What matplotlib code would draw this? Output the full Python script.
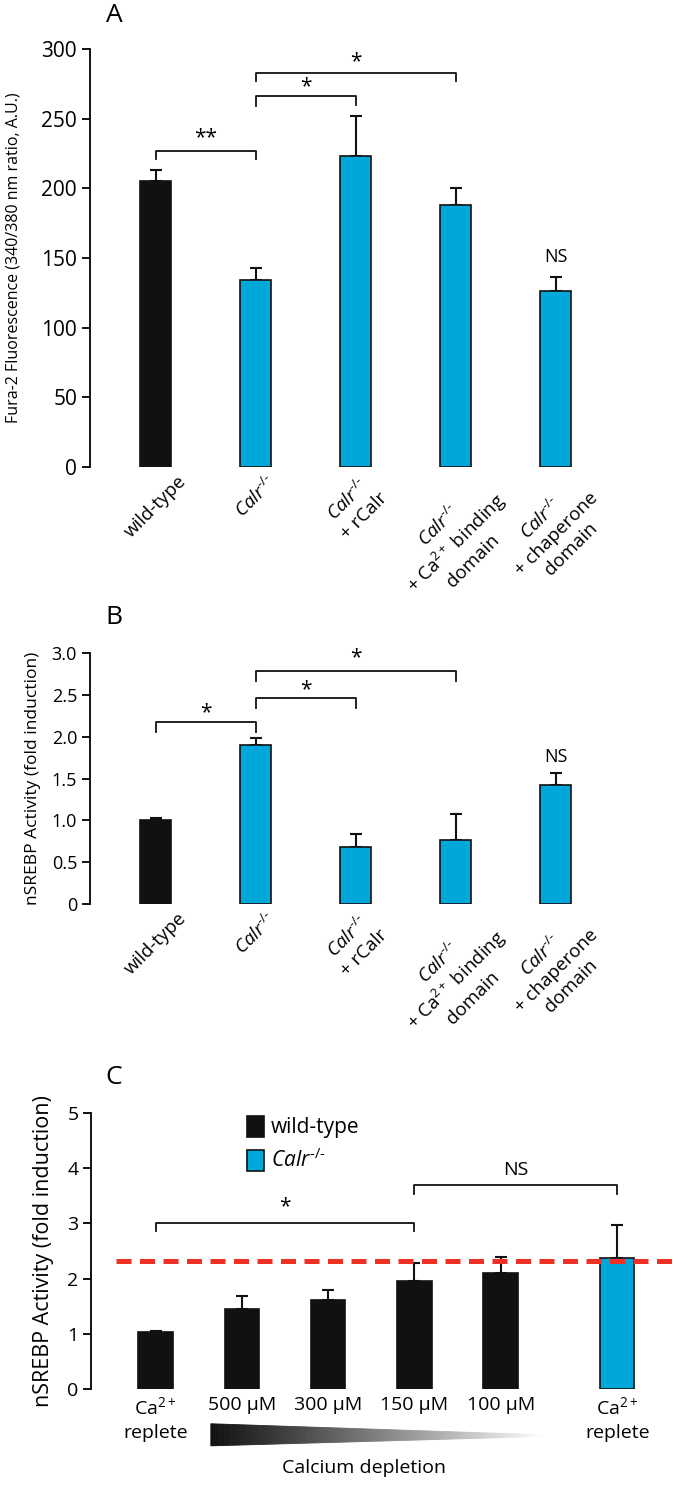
import numpy as np
import matplotlib
matplotlib.use("Agg")
import matplotlib.pyplot as plt
from matplotlib.patches import Polygon

plt.rcParams["font.family"] = ["Open Sans", "DejaVu Sans"]
plt.rcParams["mathtext.fontset"] = "custom"
plt.rcParams["mathtext.rm"] = "Open Sans"
plt.rcParams["mathtext.it"] = "Open Sans:italic"
plt.rcParams["mathtext.bf"] = "Open Sans:bold"

# -----------------------
# dados
# -----------------------
CALR = r"$\mathit{Calr}^{\text{-/-}}$"
categorias_ab = [
    "wild-type",
    CALR,
    CALR + "\n+ rCalr",
    CALR + "\n+ Ca$^{2+}$ binding\ndomain",
    CALR + "\n+ chaperone\ndomain",
]

fura_media = [205, 134, 223, 188, 126]
fura_erro = [8.5, 8.5, 29, 12, 10.5]

srebp_media = [1.00, 1.90, 0.68, 0.77, 1.42]
srebp_erro = [0.03, 0.09, 0.16, 0.30, 0.145]

categorias_c = ["Ca$^{2+}$\nreplete", "500 \u00b5M", "300 \u00b5M", "150 \u00b5M", "100 \u00b5M", "Ca$^{2+}$\nreplete"]
wt_media = [1.03, 1.45, 1.61, 1.96, 2.10]
wt_erro = [0.02, 0.24, 0.19, 0.33, 0.30]
calr_media = [2.38]
calr_erro = [0.59]
linha_calr = 2.32

PRETO = "#111111"
AZUL = "#00a7da"
W, H = 675, 1487


def eixo_estilo(ax, tam_tick):
    for s in ["top", "right", "bottom"]:
        ax.spines[s].set_visible(False)
    ax.spines["left"].set_linewidth(1.3)
    ax.tick_params(axis="y", length=6, width=1.3, labelsize=tam_tick, pad=3)
    ax.tick_params(axis="x", length=0, pad=4)


def colchete(ax, x1, x2, y, pe1, pe2, texto, ty, fs=15):
    ax.plot([x1, x1, x2, x2], [pe1, y, y, pe2], color=PRETO, lw=1.3, clip_on=False)
    ax.text((x1 + x2) / 2, ty, texto, ha="center", va="center", fontsize=fs, clip_on=False)


fig = plt.figure(figsize=(W / 100, H / 100), dpi=100)

# -----------------------
# Painel A
# -----------------------
axA = fig.add_axes([89.6 / W, 1 - 467 / H, 526 / W, 418 / H])
x = np.arange(len(fura_media))
cores = [PRETO] + [AZUL] * 4
axA.errorbar(x, fura_media, yerr=[np.zeros(len(x)), fura_erro], fmt="none",
             ecolor=PRETO, elinewidth=1.5, capsize=4, capthick=1.5, zorder=1)
axA.bar(x, fura_media, width=0.31, color=cores, edgecolor=PRETO, linewidth=1.2, zorder=2)
axA.set_xlim(-0.66, 4.6)
axA.set_ylim(0, 300)
axA.set_yticks(np.arange(0, 301, 50))
axA.set_xticks(x)
axA.set_xticklabels(categorias_ab, rotation=45, ha="center", va="top", fontsize=13.5)
eixo_estilo(axA, 15)
axA.set_ylabel("Fura-2 Fluorescence (340/380 nm ratio, A.U.)", fontsize=11.5)
axA.yaxis.set_label_coords((21 - 89.6) / 526, 0.5)

colchete(axA, 0, 1, 227, 221, 221, "**", 236)
colchete(axA, 1, 2, 266, 259, 260, "*", 273)
colchete(axA, 1, 3, 283, 277, 277, "*", 291)
axA.text(4, 151, "NS", ha="center", va="center", fontsize=13)

# -----------------------
# Painel B
# -----------------------
axB = fig.add_axes([89.6 / W, 1 - 904 / H, 526 / W, 251 / H])
axB.errorbar(x, srebp_media, yerr=[np.zeros(len(x)), srebp_erro], fmt="none",
             ecolor=PRETO, elinewidth=1.5, capsize=4, capthick=1.5, zorder=1)
axB.bar(x, srebp_media, width=0.31, color=cores, edgecolor=PRETO, linewidth=1.2, zorder=2)
axB.set_xlim(-0.66, 4.6)
axB.set_ylim(0, 3)
axB.set_yticks(np.arange(0, 3.01, 0.5))
axB.set_yticklabels(["0", "0.5", "1.0", "1.5", "2.0", "2.5", "3.0"])
axB.set_xticks(x)
axB.set_xticklabels(categorias_ab, rotation=45, ha="center", va="top", fontsize=13.5)
eixo_estilo(axB, 13)
axB.set_ylabel("nSREBP Activity (fold induction)", fontsize=12.5)
axB.yaxis.set_label_coords((41 - 89.6) / 526, 0.5)

colchete(axB, 0, 1, 2.17, 2.06, 2.06, "*", 2.29)
colchete(axB, 1, 2, 2.46, 2.34, 2.34, "*", 2.56)
colchete(axB, 1, 3, 2.78, 2.67, 2.67, "*", 2.94)
axB.text(4, 1.76, "NS", ha="center", va="center", fontsize=13)

# -----------------------
# Painel C
# -----------------------
axC = fig.add_axes([90.9 / W, 1 - 1389 / H, 584.1 / W, 276 / H])
xc = list(np.arange(len(wt_media))) + [len(wt_media) + 0.35]
axC.errorbar(xc[:5], wt_media, yerr=[np.zeros(5), wt_erro], fmt="none",
             ecolor=PRETO, elinewidth=1.5, capsize=4, capthick=1.5, zorder=1)
axC.errorbar(xc[5:], calr_media, yerr=[[0], calr_erro], fmt="none",
             ecolor=PRETO, elinewidth=1.5, capsize=4, capthick=1.5, zorder=1)
b_wt = axC.bar(xc[:5], wt_media, width=0.4, color=PRETO, edgecolor=PRETO, linewidth=1.2,
               zorder=2, label="wild-type")
b_calr = axC.bar(xc[5:], calr_media, width=0.4, color=AZUL, edgecolor=PRETO, linewidth=1.2,
                 zorder=2, label=CALR)
axC.axhline(linha_calr, xmin=(-0.46 + 0.75) / 6.77, xmax=1, color="#ee3124", lw=3.6,
            dashes=(3.0, 1.7), zorder=3)
axC.set_xlim(-0.75, 6.02)
axC.set_ylim(0, 5)
axC.set_yticks(range(6))
axC.set_xticks(xc)
axC.set_xticklabels(categorias_c, fontsize=14, linespacing=1.45)
eixo_estilo(axC, 14)
axC.tick_params(axis="x", pad=5)
axC.set_ylabel("nSREBP Activity (fold induction)", fontsize=15.5)
axC.yaxis.set_label_coords((54 - 90.9) / 584.1, 0.5)

colchete(axC, xc[0], xc[3], 3.0, 2.86, 2.86, "*", 3.31)
colchete(axC, xc[3], xc[5], 3.69, 3.54, 3.54, "NS", 3.96, fs=14)

axC.legend(handles=[b_wt, b_calr], loc="upper left", bbox_to_anchor=(0.267, 0.99),
           frameon=False, fontsize=15, handlelength=0.8, handleheight=1.2,
           handletextpad=0.35, labelspacing=0.5, borderpad=0, borderaxespad=0)

# gradiente "Calcium depletion"
n = 150
xs = np.linspace(0.64, 4.49, n + 1)
topo = np.linspace(-0.63, -0.83, n + 1)
base = np.linspace(-1.03, -0.86, n + 1)
for i in range(n):
    g = 0.07 + 0.93 * (i / n) ** 1.1
    axC.add_patch(Polygon([(xs[i], topo[i]), (xs[i + 1], topo[i + 1]),
                           (xs[i + 1], base[i + 1]), (xs[i], base[i])],
                          closed=True, facecolor=(g, g, g), edgecolor=(g, g, g),
                          linewidth=0.6, clip_on=False))
axC.text(2.41, -1.43, "Calcium depletion", ha="center", va="center", fontsize=14)

# letras dos paineis
for letra, yy in [("A", 16), ("B", 617), ("C", 1077)]:
    fig.text(114 / W, 1 - yy / H, letra, ha="center", va="center", fontsize=19)

plt.savefig("out.png", dpi=100)
